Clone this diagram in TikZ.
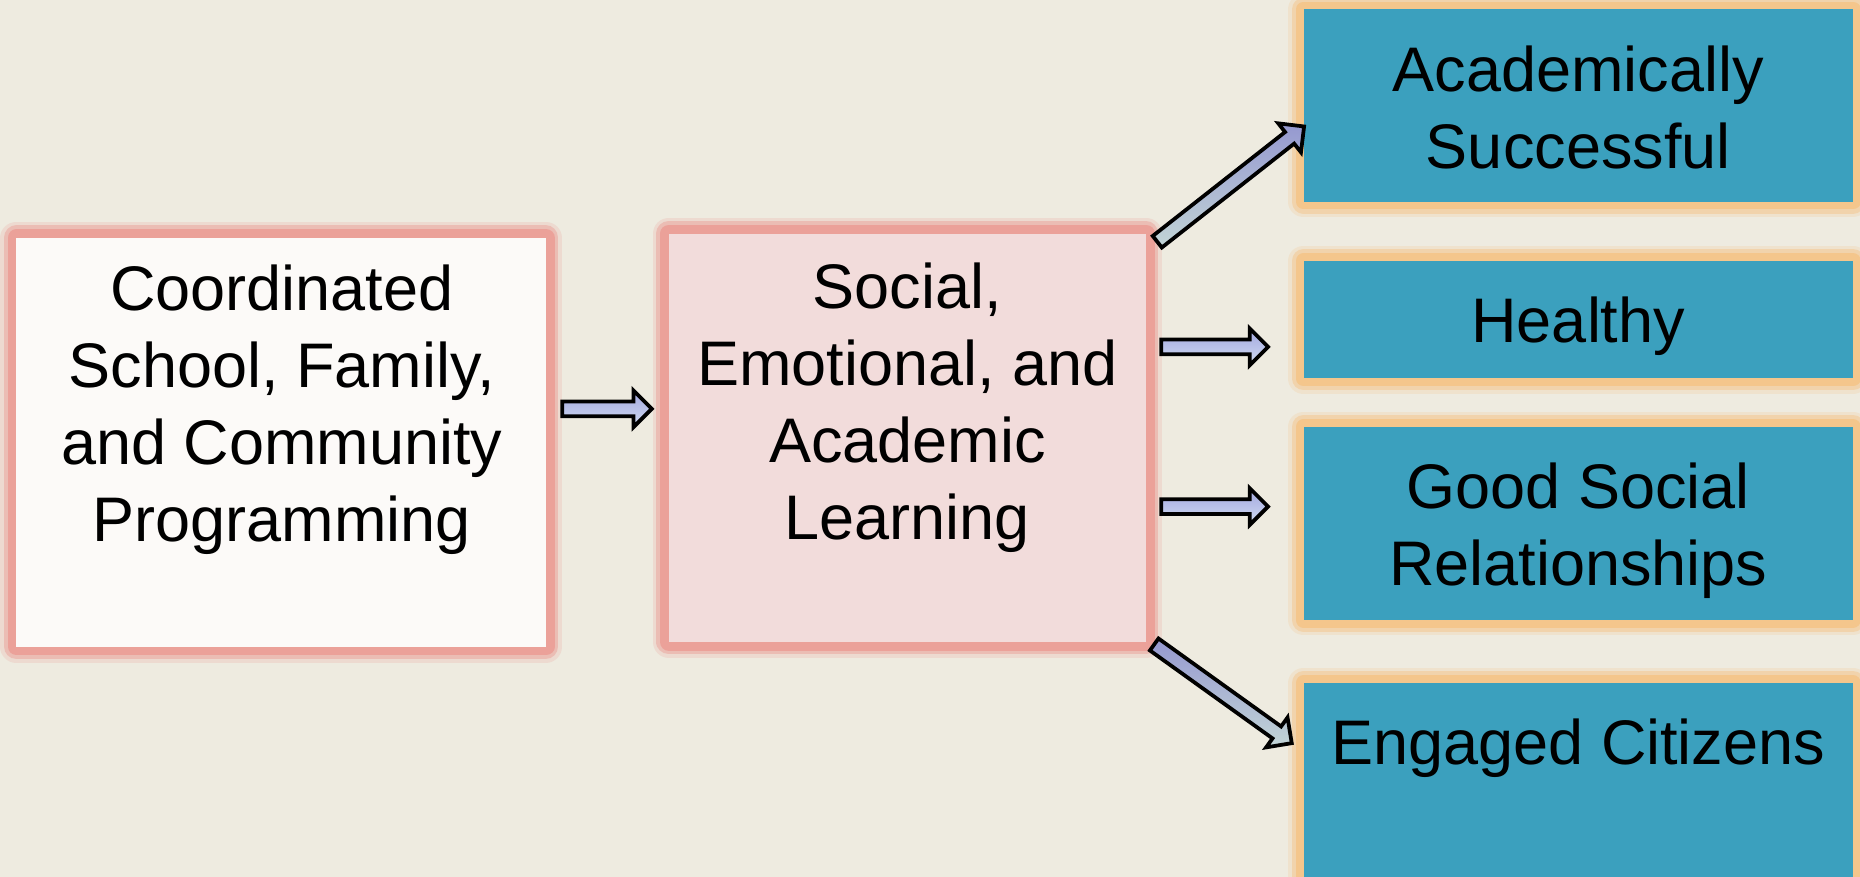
\documentclass[tikz,border=0pt]{standalone}
\usepackage{fontspec}
\setmainfont{Liberation Sans}
\usetikzlibrary{calc}
\definecolor{bg}{HTML}{EEEBE0}
\definecolor{redglow}{HTML}{EBA199}
\definecolor{orgglow}{HTML}{F4C68C}
\definecolor{lfill}{HTML}{FCFAF8}
\definecolor{mfill}{HTML}{F2DCDB}
\definecolor{teal}{HTML}{3BA0BE}
\definecolor{arrtop}{HTML}{9598D0}
\definecolor{arrmid}{HTML}{D8E2FF}
\definecolor{arrbot}{HTML}{C2D5D6}
\definecolor{harrtop}{HTML}{A2A7DE}
\definecolor{harrbot}{HTML}{D0DBF2}
\def\bash{0.062cm}
\def\bahw{0.155cm}
\def\bahl{0.155cm}
\newcommand\blockarrow[3][]{%
  \pgfpointdiff{\pgfpointanchor{#2}{center}}{\pgfpointanchor{#3}{center}}%
  \pgfgetlastxy{\bax}{\bay}%
  \pgfmathsetmacro\baang{atan2(\bay,\bax)}%
  \pgfmathsetmacro\balen{veclen(\bax,\bay)}%
  \draw[blockarr, #1, shift={(#2)}, rotate=\baang]
    (0pt,-\bash) -- ({\balen pt-\bahl},-\bash) -- ({\balen pt-\bahl},-\bahw)
    -- ({\balen pt},0pt) -- ({\balen pt-\bahl},\bahw) -- ({\balen pt-\bahl},\bash)
    -- (0pt,\bash) -- cycle;
}
\tikzset{
  box/.style={rectangle, inner sep=0pt, outer sep=0pt, draw=none},
  glowred/.style={
    preaction={draw=redglow, draw opacity=0.22, line width=0.27cm, line join=round},
    preaction={draw=redglow, draw opacity=0.5, line width=0.21cm, line join=round},
    preaction={draw=redglow, line width=0.15cm, line join=round}},
  gloworg/.style={
    preaction={draw=orgglow, draw opacity=0.22, line width=0.26cm, line join=round},
    preaction={draw=orgglow, draw opacity=0.5, line width=0.2cm, line join=round},
    preaction={draw=orgglow, line width=0.13cm, line join=round}},
  lbox/.style={box, glowred, fill=lfill},
  mbox/.style={box, glowred, fill=mfill},
  rbox/.style={box, gloworg, fill=teal, minimum width=4.63cm},
  txt/.style={font=\fontsize{15.1}{18.5}\selectfont, align=center, inner sep=0pt, anchor=north, text=black},
  blockarr/.style={draw=black, line width=0.9pt, line join=miter,
    top color=arrtop, middle color=arrmid, bottom color=arrbot},
  flatarr/.style={top color=harrtop, middle color=arrmid, bottom color=harrbot},
}
\begin{document}
\begin{tikzpicture}[x=0.01cm, y=-0.01cm]
\useasboundingbox (0,0) rectangle (1568,739);
\fill[bg] (0,0) rectangle (1568,739);

% boxes
\node[lbox, minimum width=4.46cm, minimum height=3.443cm] (L) at (237,372.8) {};
\node[mbox, minimum width=4.02cm, minimum height=3.44cm] (M) at (765,369) {};
\node[rbox, minimum height=1.62cm] (R1) at (1330.5,89) {};
\node[rbox, minimum height=0.99cm] (R2) at (1330.5,269.5) {};
\node[rbox, minimum height=1.625cm] (R3) at (1330.5,441.2) {};
\node[rbox, minimum height=3.3cm] (R4) at (1330.5,741) {};

% texts
\node[txt] (Lt) at (237.5,222.5) {Coordinated\\School, Family,\\and Community\\Programming};
\node[txt] (Mt) at (765,220.5) {Social,\\Emotional, and\\Academic\\Learning};
\node[txt] (R1t) at (1330.5,38) {Academically\\Successful};
\node[txt] (R2t) at (1330.5,249.5) {Healthy};
\node[txt] (R3t) at (1330.5,389.5) {Good Social\\Relationships};
\node[txt] (R4t) at (1330.5,605.5) {Engaged Citizens};

% arrow end points
\coordinate (a1s) at (474,344.6);
\coordinate (a1e) at (549.5,344.6);
\coordinate (a2s) at (979,292.4);
\coordinate (a2e) at (1069,292.4);
\coordinate (a3s) at (979,427);
\coordinate (a3e) at (1069,427);
\coordinate (a4s) at (975.6,203.8);
\coordinate (a4e) at (1099.5,106.5);
\coordinate (a5s) at (973,543.3);
\coordinate (a5e) at (1089,626.5);

\blockarrow[flatarr]{a1s}{a1e}
\blockarrow[flatarr]{a2s}{a2e}
\blockarrow[flatarr]{a3s}{a3e}
\blockarrow{a4s}{a4e}
\blockarrow{a5s}{a5e}
\end{tikzpicture}
\end{document}
